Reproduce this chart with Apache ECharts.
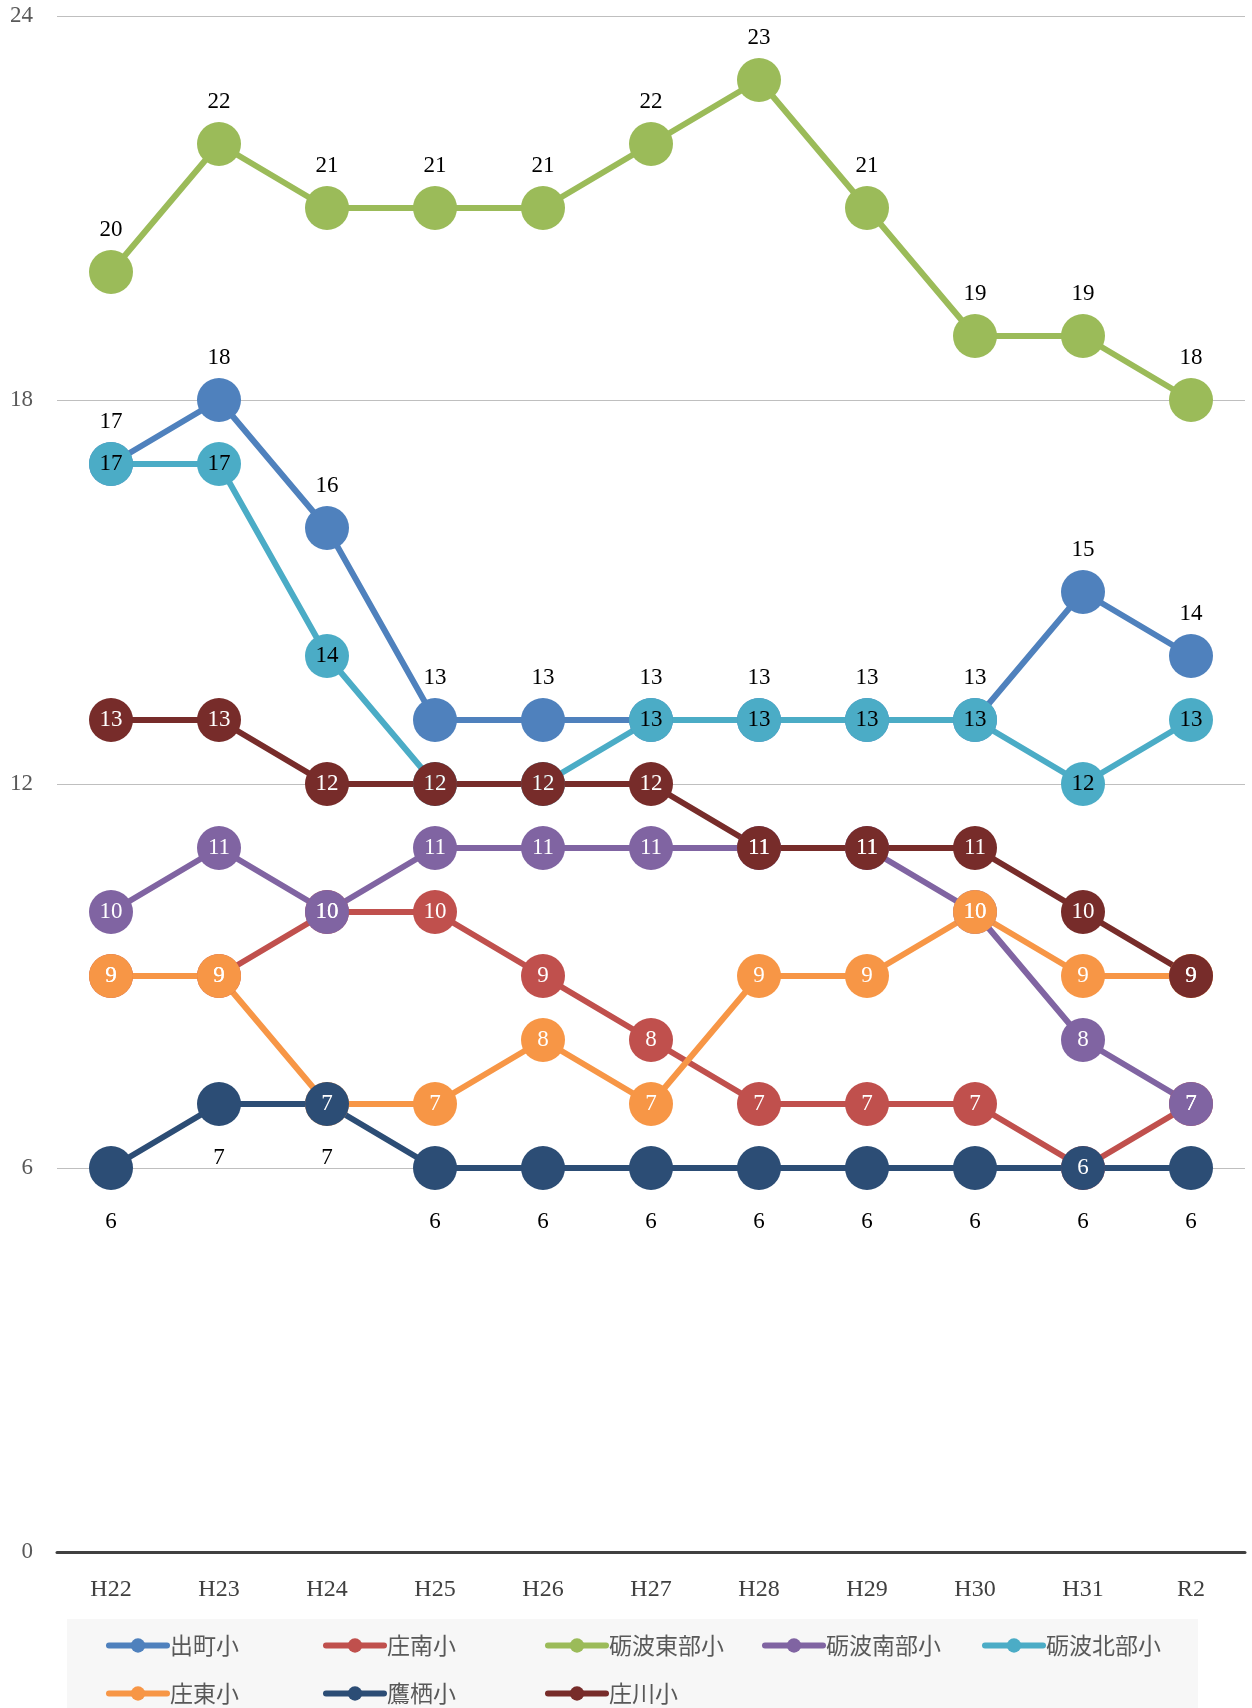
<!DOCTYPE html>
<html><head><meta charset="utf-8">
<script src="https://cdn.jsdelivr.net/npm/echarts@6/dist/echarts.min.js"></script>
<style>html,body{margin:0;padding:0;background:#fff}#c{width:1252px;height:1708px}</style>
</head><body><div id="c"></div>
<script>
const categories = ['H22','H23','H24','H25','H26','H27','H28','H29','H30','H31','R2'];
const yTicks = [0, 6, 12, 18, 24];
const demachi      = [17,18,16,13,13,13,13,13,13,15,14];
const shonan       = [9,9,10,10,9,8,7,7,7,6,7];
const tonamiTobu   = [20,22,21,21,21,22,23,21,19,19,18];
const tonamiNanbu  = [10,11,10,11,11,11,11,11,10,8,7];
const tonamiHokubu = [17,17,14,12,12,13,13,13,13,12,13];
const shoto        = [9,9,7,7,8,7,9,9,10,9,9];
const takanosu     = [6,7,7,6,6,6,6,6,6,6,6];
const shogawa      = [13,13,12,12,12,12,11,11,11,10,9];

const seriesDefs = [
  {name:'出町小',   data:demachi,      color:'#4F81BD', pos:'top',    lc:'#000'},
  {name:'庄南小',   data:shonan,       color:'#C0504D', pos:'inside', lc:'#fff'},
  {name:'砺波東部小', data:tonamiTobu,  color:'#9BBB59', pos:'top',    lc:'#000'},
  {name:'砺波南部小', data:tonamiNanbu, color:'#8064A2', pos:'inside', lc:'#fff'},
  {name:'砺波北部小', data:tonamiHokubu,color:'#4BACC6', pos:'inside', lc:'#000'},
  {name:'庄東小',   data:shoto,        color:'#F79646', pos:'inside', lc:'#fff'},
  {name:'鷹栖小',   data:takanosu,     color:'#2C4D75', pos:'bottom', lc:'#000'},
  {name:'庄川小',   data:shogawa,      color:'#772C2A', pos:'inside', lc:'#fff'}
];

const numFont = '"Liberation Serif", "DejaVu Serif", serif';
const series = [];
seriesDefs.forEach(d => {
  series.push({
    name: d.name, type:'line', data:d.data, z:2,
    symbol:'circle', symbolSize:44, showSymbol:true,
    lineStyle:{color:d.color, width:6},
    itemStyle:{color:d.color},
    label:{show:false},
    emphasis:{disabled:true}, silent:true
  });
});
seriesDefs.forEach(d => {
  series.push({
    name: d.name + '_label', type:'line', data:d.data, z:5,
    symbol:'circle', symbolSize:44,
    lineStyle:{width:0, opacity:0},
    itemStyle:{color:'rgba(0,0,0,0)'},
    label:{show:true, position:d.pos, color:d.lc, opacity:1,
      distance: d.pos==='bottom' ? 20 : 9,
      fontFamily:numFont, fontSize:23},
    emphasis:{disabled:true}, silent:true
  });
});

const legendLefts = [106, 323, 545, 762, 982, 106, 323, 545];
const legendTops = [1634, 1634, 1634, 1634, 1634, 1682, 1682, 1682];
const legends = seriesDefs.map((d, i) => ({
  data:[d.name], left:legendLefts[i], top:legendTops[i],
  itemWidth:58, itemHeight:18, itemGap:0, padding:0,
  lineStyle:{width:6, cap:'round'},
  textStyle:{color:'#595959', fontSize:23, fontFamily:'"Noto Sans CJK JP", sans-serif', padding:[0,0,0,-2]},
  selectedMode:false
}));

const chart = echarts.init(document.getElementById('c'), null, {renderer:'canvas'});
chart.setOption({
  animation:false,
  backgroundColor:'#fff',
  graphic:[{type:'rect', left:67, top:1619, shape:{width:1131, height:95}, style:{fill:'#f7f7f7'}, z:-1, silent:true}],
  grid:{left:57, right:7, top:16, bottom:156, containLabel:false},
  xAxis:{type:'category', data:categories, boundaryGap:true,
    axisLine:{lineStyle:{color:'#404040', width:3}},
    axisTick:{show:false},
    axisLabel:{color:'#404040', fontSize:24, fontFamily:numFont, margin:26}},
  yAxis:{type:'value', min:yTicks[0], max:yTicks[yTicks.length-1], interval:6,
    axisLine:{show:false}, axisTick:{show:false},
    axisLabel:{color:'#595959', fontSize:23, fontFamily:numFont, margin:24},
    splitLine:{lineStyle:{color:'#bfbfbf', width:1}}},
  legend:legends,
  series:series
});
</script></body></html>
